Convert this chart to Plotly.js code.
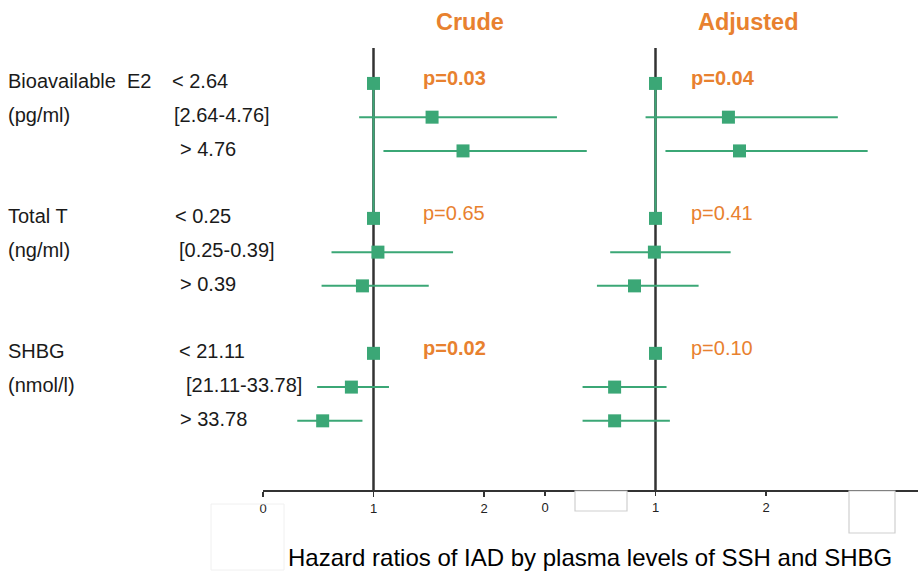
<!DOCTYPE html>
<html>
<head>
<meta charset="utf-8">
<script src="https://cdn.plot.ly/plotly-3.0.1.min.js"></script>
<style>html,body{margin:0;padding:0;background:#fff;}#chart{width:918px;height:571px;}</style>
</head>
<body>
<div id="chart"></div>
<script>
// ---- data ----
const groups = ["Bioavailable E2", "Total T", "SHBG"];
const units = ["(pg/ml)", "(ng/ml)", "(nmol/l)"];
const levels = [
  ["< 2.64", "[2.64-4.76]", "> 4.76"],
  ["< 0.25", "[0.25-0.39]", "> 0.39"],
  ["< 21.11", "[21.11-33.78]", "> 33.78"]
];
const crudeHR = [1, 1.53, 1.81, 1, 1.04, 0.90, 1, 0.80, 0.54];
const crudeLo = [1, 0.87, 1.09, 1, 0.62, 0.53, 1, 0.49, 0.31];
const crudeHi = [1, 2.66, 2.93, 1, 1.72, 1.50, 1, 1.14, 0.90];
const adjHR   = [1, 1.66, 1.76, 1, 0.99, 0.81, 1, 0.63, 0.63];
const adjLo   = [1, 0.91, 1.09, 1, 0.59, 0.47, 1, 0.34, 0.34];
const adjHi   = [1, 2.65, 2.92, 1, 1.68, 1.39, 1, 1.10, 1.13];
const crudeP = ["p=0.03", "p=0.65", "p=0.02"];
const crudeBold = [true, false, true];
const adjP = ["p=0.04", "p=0.41", "p=0.10"];
const adjBold = [true, false, false];
const panelTitles = ["Crude", "Adjusted"];
const tickVals = [0, 1, 2];
const chartTitle = "Hazard ratios of IAD by plasma levels of SSH and SHBG";

// ---- styling / layout helpers ----
const GREEN = "#3BA776";
const ORANGE = "#E8812F";
const DARK = "#333333";
const FONT = "Arial, 'Liberation Sans', sans-serif";
const W = 918, H = 571, ML = 263, MR = 0, MT = 48, MB = 81;
const PW = W - ML - MR, PH = H - MT - MB;
const PXU = 110.5;               // pixels per HR unit
const crudeRange = [0, PW / PXU];
const adjStart = 545 - ML;       // pixel offset of adjusted zero
const adjRange = [-adjStart / PXU, (PW - adjStart) / PXU];
const yRange = [12.05, -1.05];
const px = v => (v - ML) / PW;   // page x pixel -> paper
const py = v => (H - MB - v) / PH; // page y pixel -> paper

const rowY = [];
levels.forEach((lv, g) => lv.forEach((_, i) => rowY.push(g * 4 + i)));

function ciTrace(lo, hi, xa) {
  const x = [], y = [];
  lo.forEach((l, k) => { if (hi[k] !== l) { x.push(l, hi[k], null); y.push(rowY[k], rowY[k], null); } });
  return {type: "scatter", mode: "lines", x, y, xaxis: xa, yaxis: "y",
          line: {color: GREEN, width: 2}, hoverinfo: "skip", showlegend: false};
}
function refSeg(hr, xa) {
  const x = [hr[0], hr[3]], y = [rowY[0], rowY[3]];
  return {type: "scatter", mode: "lines", x, y, xaxis: xa, yaxis: "y",
          line: {color: GREEN, width: 2}, hoverinfo: "skip", showlegend: false};
}
function ptTrace(hr, xa) {
  return {type: "scatter", mode: "markers", x: hr, y: rowY, xaxis: xa, yaxis: "y",
          marker: {symbol: "square", size: 13, color: GREEN, line: {width: 0}},
          hoverinfo: "skip", showlegend: false, cliponaxis: false};
}

const data = [
  ciTrace(crudeLo, crudeHi, "x"),
  ciTrace(adjLo, adjHi, "x2"),
  refSeg(crudeHR, "x"),
  refSeg(adjHR, "x2"),
  ptTrace(crudeHR, "x"),
  ptTrace(adjHR, "x2")
];

const annotations = [];
const txt = (text, x, y, opts) => Object.assign({text, x, y, xref: "paper", yref: "y",
  showarrow: false, xanchor: "left", yanchor: "middle", yshift: 2,
  font: {family: FONT, size: 20, color: "#1a1a1a"}}, opts || {});

const levelX = [[172, 174, 180], [175, 179, 180], [179, 186, 180]];
groups.forEach((g, gi) => {
  annotations.push(txt(g.replace(" E2", "&nbsp; E2"), px(6), rowY[gi * 3]));
  annotations.push(txt(units[gi], px(6), rowY[gi * 3 + 1]));
  levels[gi].forEach((l, i) => annotations.push(txt(l, px(levelX[gi][i] - 2), rowY[gi * 3 + i])));
  annotations.push(txt(crudeP[gi], px(421), rowY[gi * 3], {yshift: 5,
    font: {family: FONT, size: 20, color: ORANGE, weight: crudeBold[gi] ? "bold" : "normal"}}));
  annotations.push(txt(adjP[gi], px(689), rowY[gi * 3], {yshift: 5,
    font: {family: FONT, size: 20, color: ORANGE, weight: adjBold[gi] ? "bold" : "normal"}}));
});
[470, 748].forEach((cx, k) => annotations.push({text: panelTitles[k], x: px(cx), y: py(22),
  xref: "paper", yref: "paper", showarrow: false, xanchor: "center", yanchor: "middle",
  font: {family: FONT, size: 23.5, color: ORANGE, weight: "bold"}}));
annotations.push({text: chartTitle, x: px(590), y: py(557), xref: "paper", yref: "paper",
  showarrow: false, xanchor: "center", yanchor: "middle",
  font: {family: FONT, size: 24, color: "#000"}});

const shapes = [
  {type: "line", xref: "x", yref: "paper", x0: 1, x1: 1, y0: 0, y1: 1, layer: "below",
   line: {color: DARK, width: 2.5}},
  {type: "line", xref: "x2", yref: "paper", x0: 1, x1: 1, y0: 0, y1: 1, layer: "below",
   line: {color: DARK, width: 2.5}},
  // faint leftover boxes seen in the reference
  {type: "rect", xref: "paper", yref: "paper", x0: px(575), x1: px(627), y0: py(511), y1: py(491),
   line: {color: "#cfcfcf", width: 1.2}, fillcolor: "rgba(255,255,255,1)"},
  {type: "rect", xref: "paper", yref: "paper", x0: px(849), x1: px(895), y0: py(533), y1: py(491),
   line: {color: "#cfcfcf", width: 1.2}, fillcolor: "rgba(255,255,255,1)"},
  {type: "rect", xref: "paper", yref: "paper", x0: px(211), x1: px(284), y0: py(570), y1: py(504),
   line: {color: "#f0f0f0", width: 1}, fillcolor: "rgba(0,0,0,0)"}
];

const axisCommon = {showgrid: false, zeroline: false, ticks: "outside", ticklen: 5, tickwidth: 1.5,
  tickcolor: DARK, tickvals: tickVals, tickfont: {family: FONT, size: 13, color: "#222"},
  fixedrange: true};

const layout = {
  width: W, height: H, margin: {l: ML, r: MR, t: MT, b: MB, pad: 0},
  paper_bgcolor: "#fff", plot_bgcolor: "#fff", showlegend: false, hovermode: false,
  xaxis: Object.assign({}, axisCommon, {range: crudeRange, showline: true, linecolor: DARK, linewidth: 2}),
  xaxis2: Object.assign({}, axisCommon, {range: adjRange, overlaying: "x", side: "bottom", anchor: "y", showline: false}),
  yaxis: {range: yRange, visible: false, fixedrange: true},
  annotations, shapes
};

Plotly.newPlot("chart", data, layout, {staticPlot: true, displayModeBar: false});
</script>
</body>
</html>
